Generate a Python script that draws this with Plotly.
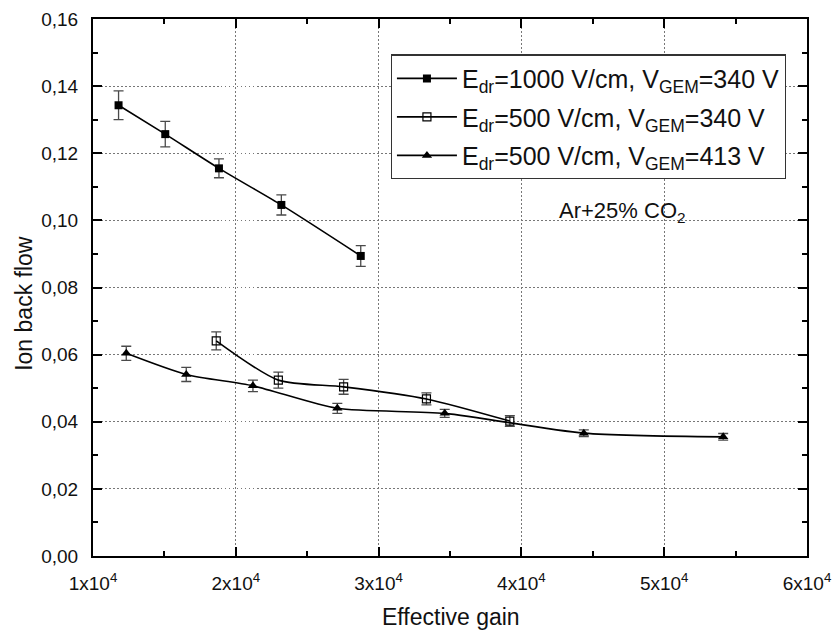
import plotly.graph_objects as go

# ---- data ----
gain_1000_340 = [11790, 15060, 18820, 23190, 28750]
ibf_1000_340 = [0.1343, 0.1257, 0.1155, 0.1046, 0.0894]
err_1000_340 = [0.0043, 0.0038, 0.0028, 0.0030, 0.0031]

gain_500_340 = [18630, 22980, 27550, 33350, 39190]
ibf_500_340 = [0.0641, 0.0524, 0.0504, 0.0468, 0.0402]
err_500_340 = [0.0027, 0.0024, 0.0022, 0.0018, 0.0016]

gain_500_413 = [12330, 16530, 21200, 27110, 34630, 44370, 54130]
ibf_500_413 = [0.0604, 0.0541, 0.0507, 0.0440, 0.0425, 0.0366, 0.0355]
err_500_413 = [0.0021, 0.0021, 0.0017, 0.0015, 0.0012, 0.0010, 0.0010]

names = [
    "E<sub>dr</sub>=1000 V/cm, V<sub>GEM</sub>=340 V",
    "E<sub>dr</sub>=500 V/cm, V<sub>GEM</sub>=340 V",
    "E<sub>dr</sub>=500 V/cm, V<sub>GEM</sub>=413 V",
]

x_tickvals = [10000, 20000, 30000, 40000, 50000, 60000]
x_ticktext = ["1x10<sup>4</sup>", "2x10<sup>4</sup>", "3x10<sup>4</sup>",
              "4x10<sup>4</sup>", "5x10<sup>4</sup>", "6x10<sup>4</sup>"]
y_tickvals = [0.00, 0.02, 0.04, 0.06, 0.08, 0.10, 0.12, 0.14, 0.16]

FONT = "Liberation Sans, Arial, sans-serif"
err_style = dict(type="data", visible=True, color="#4a4a4a", thickness=1.3, width=5)

fig = go.Figure()
series = [
    (gain_1000_340, ibf_1000_340, err_1000_340, dict(symbol="square", size=8, color="black")),
    (gain_500_340, ibf_500_340, err_500_340,
     dict(symbol="square-open", size=8, color="black", line=dict(width=1.2, color="black"))),
    (gain_500_413, ibf_500_413, err_500_413, dict(symbol="triangle-up", size=9, color="black")),
]
for i, (x, y, e, mk) in enumerate(series):
    fig.add_trace(go.Scatter(
        x=x, y=y, name=names[i], mode="lines+markers",
        line=dict(color="black", width=1.6, shape="spline", smoothing=0.7),
        marker=mk,
        error_y=dict(array=e, **err_style),
        legendgroup=f"g{i}",
    ))

axis_common = dict(
    showline=True, linecolor="black", linewidth=2, mirror="allticks",
    ticks="inside", ticklen=9, tickwidth=1.5, tickcolor="black",
    showgrid=True, gridcolor="#777777", griddash="1.5px,2.5px", gridwidth=1.2,
    zeroline=False, automargin=False,
    tickfont=dict(family=FONT, size=19, color="#111"),
)

fig.update_xaxes(
    range=[10000, 60000], tickmode="array", tickvals=x_tickvals, ticktext=x_ticktext,
    minor=dict(ticks="inside", ticklen=5, tickwidth=1.5, tickcolor="black",
               tickvals=[15000, 25000, 35000, 45000, 55000], showgrid=False),
    ticklabelstandoff=9,
    **axis_common,
)
fig.update_yaxes(
    range=[0, 0.16], tickmode="array", tickvals=y_tickvals, tickformat=".2f",
    minor=dict(ticks="inside", ticklen=5, tickwidth=1.5, tickcolor="black",
               dtick=0.01, showgrid=False),
    ticklabelstandoff=9,
    **axis_common,
)

fig.add_annotation(text="Effective gain", xref="paper", yref="paper",
                   x=0.502, y=-0.085, xanchor="center", yanchor="top", showarrow=False,
                   font=dict(family=FONT, size=23, color="#111"))
fig.add_annotation(text="Ion back flow", xref="paper", yref="paper",
                   x=-0.097, y=0.471, xanchor="center", yanchor="middle", showarrow=False,
                   textangle=-90, font=dict(family=FONT, size=23, color="#111"))
fig.add_annotation(text="Ar+25% CO<sub>2</sub>", xref="paper", yref="paper",
                   x=0.742, y=0.64, xanchor="center", yanchor="middle", showarrow=False,
                   font=dict(family=FONT, size=22, color="#111"))

fig.update_layout(
    width=834, height=632,
    margin=dict(l=93, r=27, t=19, b=76),
    plot_bgcolor="white", paper_bgcolor="white",
    separators=", ",
    font=dict(family=FONT, color="#111"),
    legend=dict(
        x=0.417, y=0.934, xanchor="left", yanchor="top",
        bgcolor="white", bordercolor="#333", borderwidth=1.2,
        font=dict(family=FONT, size=25, color="#111"),
        tracegroupgap=3, itemwidth=60,
    ),
    showlegend=True,
)

fig.write_html("out.html", config={"displayModeBar": False},
               post_script="document.body.style.margin='0';document.body.style.overflow='hidden';")
